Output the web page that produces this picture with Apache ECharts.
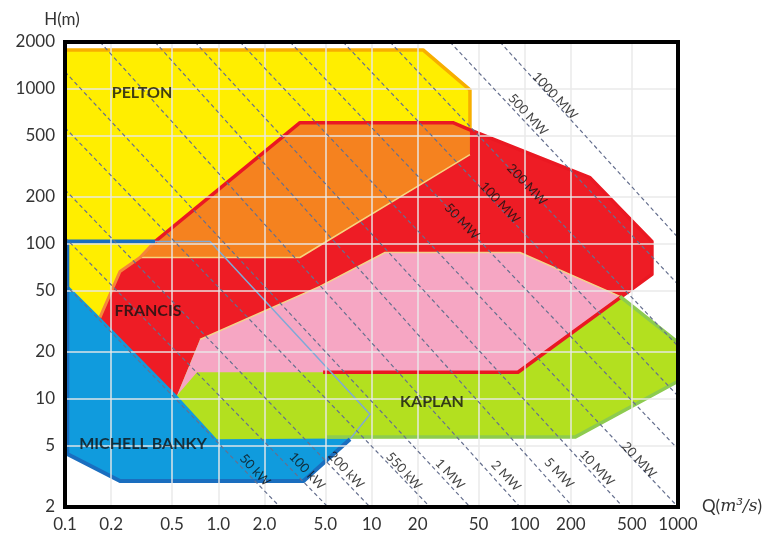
<!DOCTYPE html>
<html><head><meta charset="utf-8">
<script src="https://cdn.jsdelivr.net/npm/echarts@6/dist/echarts.min.js"></script>
<style>html,body{margin:0;padding:0;background:#fff}#c{width:780px;height:533px}</style>
</head><body><div id="c"></div>
<script>
// ---- axes ----
const xTicks = [0.1,0.2,0.5,1,2,5,10,20,50,100,200,500,1000];
const xTickLabels = ['0.1','0.2','0.5','1.0','2.0','5.0','10','20','50','100','200','500','1000'];
const yTicks = [2,5,10,20,50,100,200,500,1000,2000];
const yTickLabels = ['2','5','10','20','50','100','200','500','1000','2000'];

// ---- turbine regions, vertices as [Q (m3/s), H (m)] ----
const michellArea = [[0.1,103.2],[0.884,103.2],[9.78,7.94],[7.24,5.48],[3.6,2.94],[0.2286,2.94],[0.1,4.39]];
const peltonArea  = [[0.1,1778],[21.7,1778],[43.9,983],[43.9,375],[3.415,81.4],[0.3086,81.4],[0.1692,33.5],[0.1,56.2]];
const francisArea = [[0.538,10.5],[0.1692,33.5],[0.2286,66.2],[0.3086,81.4],[0.3867,103.2],[3.415,603],[34,603],[43.9,543],[266.6,266.6],[676,103.2],[676,63.3],[90.3,14.8],[0.7266,14.8]];
const peltonFrancisArea = [[0.3867,103.2],[3.415,603],[34,603],[43.9,543],[43.9,375],[3.415,81.4],[0.3086,81.4]];
const kaplanArea  = [[0.538,10.5],[0.760,24.1],[4.61,53.0],[12.25,87.7],[93.1,87.7],[418,45.7],[1000,23.1],[1000,12.95],[212.8,5.65],[0.981,5.48]];
const francisKaplanArea = [[0.538,10.5],[0.760,24.1],[4.61,53.0],[12.25,87.7],[93.1,87.7],[418,45.7],[90.3,14.8],[0.7266,14.8]];

// ---- region outlines ----
const peltonEdge   = [[0.1,1778],[21.7,1778],[43.9,983],[43.9,543]];
const francisEdge  = [[0.3867,103.2],[3.415,603],[34,603],[43.9,543],[266.6,266.6],[676,103.2],[676,63.3],[90.3,14.8],[4.83,14.8]];
const francisLeftEdge = [[0.3867,103.2],[0.3086,81.4],[0.2286,66.2],[0.1692,33.5]];
const kaplanEdgeTop = [[418,45.7],[1000,23.1]];
const kaplanEdgeBottom = [[1000,12.95],[212.8,5.65],[5.125,5.65]];
const michellEdgeThick = [[0.3867,103.2],[0.1035,103.2],[0.1035,4.39],[0.2286,2.94],[3.6,2.94],[7.24,5.48]];
const michellEdgeThin  = [[0.3867,103.2],[0.884,103.2],[9.78,7.94],[7.24,5.48]];
const pinkTopEdge = [[0.760,24.1],[4.61,53.0],[12.25,87.7],[93.1,87.7],[418,45.7]];
const orangeBottomEdge = [[43.9,375],[3.415,81.4],[0.3086,81.4]];

// ---- constant power guide lines: [Qstart,Hstart],[Qend,Hend] ----
const powerNames = ['50 kW','100 kW','200 kW','550 kW','1 MW','2 MW','5 MW','10 MW','20 MW','50 MW','100 MW','200 MW','500 MW','1000 MW'];
const powerStart = [[0.1,54.6],[0.1,109.5],[0.1,223],[0.1,560],[0.1,1284],[0.1692,2000],[0.3867,2000],[0.705,2000],[1.387,2000],[2.94,2000],[6.52,2000],[13.2,2000],[32.5,2000],[68.9,2000]];
const powerEnd   = [[2.53,2],[5.2,2],[9.78,2],[24.1,2],[43.9,2],[93.1,2],[206.5,2],[437.6,2],[1000,2],[1000,4.73],[1000,10.4],[1000,21.8],[1000,54.6],[1000,109.5]];
const powerLabelPos = [[1.737,3.46],[3.80,3.41],[6.82,3.46],[16.3,3.41],[32.5,3.26],[75.4,3.17],[167.3,3.31],[296,3.57],[556.6,4.02],[38.9,138.9],[68.9,184],[103.4,240.4],[105,678.6],[157.6,899]];

// ---- region names ----
const regionNames = ['PELTON','FRANCIS','MICHELL BANKY','KAPLAN'];
const regionLabelPos = [[0.318,940],[0.348,36.6],[0.323,5.09],[24.8,9.49]];

const chart = echarts.init(document.getElementById('c'), null, {renderer:'canvas'});

function poly(name, pts, color, z) {
  return { type:'custom', name, z, silent:true, clip:true, data:[[1,10]],
    renderItem: (params, api) => ({ type:'polygon', shape:{ points: pts.map(p => api.coord(p)) }, style:{ fill: color } }) };
}
function edge(pts, color, width, z) {
  return { type:'line', data: pts, showSymbol:false, symbol:'none', silent:true, z,
    lineStyle:{ color, width, join:'round' }, animation:false };
}
function nearestLabel(v, ticks, labels) {
  let bi = 0, bd = Infinity;
  ticks.forEach((t,i) => { const d = Math.abs(Math.log10(v) - Math.log10(t)); if (d < bd) { bd = d; bi = i; } });
  return labels[bi];
}

const series = [
  poly('Michell', michellArea, '#109BDD', 1),
  poly('Pelton', peltonArea, '#FFEE00', 2),
  poly('Francis', francisArea, '#EE1C25', 3),
  poly('PeltonFrancis', peltonFrancisArea, '#F5821F', 4),
  poly('Kaplan', kaplanArea, '#B3E01F', 5),
  poly('FrancisKaplan', francisKaplanArea, '#F6A6C3', 6),
  edge(pinkTopEdge, '#F3D38C', 1.5, 7),
  edge(orangeBottomEdge, '#F7D57E', 1.5, 7),
  edge(peltonEdge, '#F7AE00', 3.5, 7),
  edge(francisLeftEdge, '#F5863A', 3, 7),
  edge(francisEdge, '#EA1822', 3.5, 7),
  edge(kaplanEdgeTop, '#8DCB4F', 3.5, 7),
  edge(kaplanEdgeBottom, '#8DCB4F', 3.5, 7),
  edge(michellEdgeThin, '#7FA9D6', 1.5, 7),
  edge(michellEdgeThick, '#1A6EBF', 4, 7)
];
powerNames.forEach((n,i) => {
  series.push({ type:'line', data:[powerStart[i], powerEnd[i]], showSymbol:false, symbol:'none', silent:true, z:9,
    lineStyle:{ color:'#66708F', width:1.2, type:[4,3] }, animation:false });
});
series.push({ type:'scatter', symbolSize:0, silent:true, z:10, animation:false,
  data: powerLabelPos.map((p,i) => [p[0], p[1], powerNames[i]]),
  label:{ show:true, position:'inside', rotate:-47, formatter: p => p.data[2],
    color:'#111', fontSize:13, fontFamily:'Lato' } });
series.push({ type:'scatter', symbolSize:0, silent:true, z:10, animation:false,
  data: regionLabelPos.map((p,i) => [p[0], p[1], regionNames[i]]),
  label:{ show:true, position:'inside', formatter: p => p.data[2],
    color:'#111', fontSize:16, fontWeight:'bold', fontFamily:'Lato' } });

chart.setOption({
  animation:false,
  backgroundColor:'#fff',
  grid:{ left:65, right:102, top:42, bottom:25, show:true, borderColor:'#000', borderWidth:4, z:20, backgroundColor:'transparent' },
  xAxis:{ type:'log', logBase:10, min:0.1, max:1000, z:8,
    name:'{a|Q(}{b|m³/s}{a|)}', nameLocation:'end', nameGap:24,
    nameTextStyle:{ rich:{ a:{ fontSize:17, fontFamily:'Lato', color:'#333' }, b:{ fontSize:17, fontFamily:'DejaVu Serif', fontStyle:'italic', color:'#333' } } },
    axisLine:{ show:false }, axisTick:{ show:false, customValues:xTicks },
    axisLabel:{ customValues:xTicks, fontSize:17, fontFamily:'Lato', color:'#333', margin:9,
      formatter: v => nearestLabel(v, xTicks, xTickLabels) },
    splitLine:{ show:true, lineStyle:{ color:'rgba(232,232,232,0.95)', width:1.5 } },
    minorSplitLine:{ show:false } },
  yAxis:{ type:'log', logBase:10, min:2, max:2000, z:8,
    name:'H(m)', nameLocation:'end', nameGap:14,
    nameTextStyle:{ fontSize:17, fontFamily:'Lato', color:'#333', padding:[0,6,0,0] },
    axisLine:{ show:false }, axisTick:{ show:false, customValues:yTicks },
    axisLabel:{ customValues:yTicks, fontSize:17, fontFamily:'Lato', color:'#333', margin:10,
      formatter: v => nearestLabel(v, yTicks, yTickLabels) },
    splitLine:{ show:true, lineStyle:{ color:'rgba(232,232,232,0.95)', width:1.5 } },
    minorSplitLine:{ show:false } },
  series
});
</script></body></html>
